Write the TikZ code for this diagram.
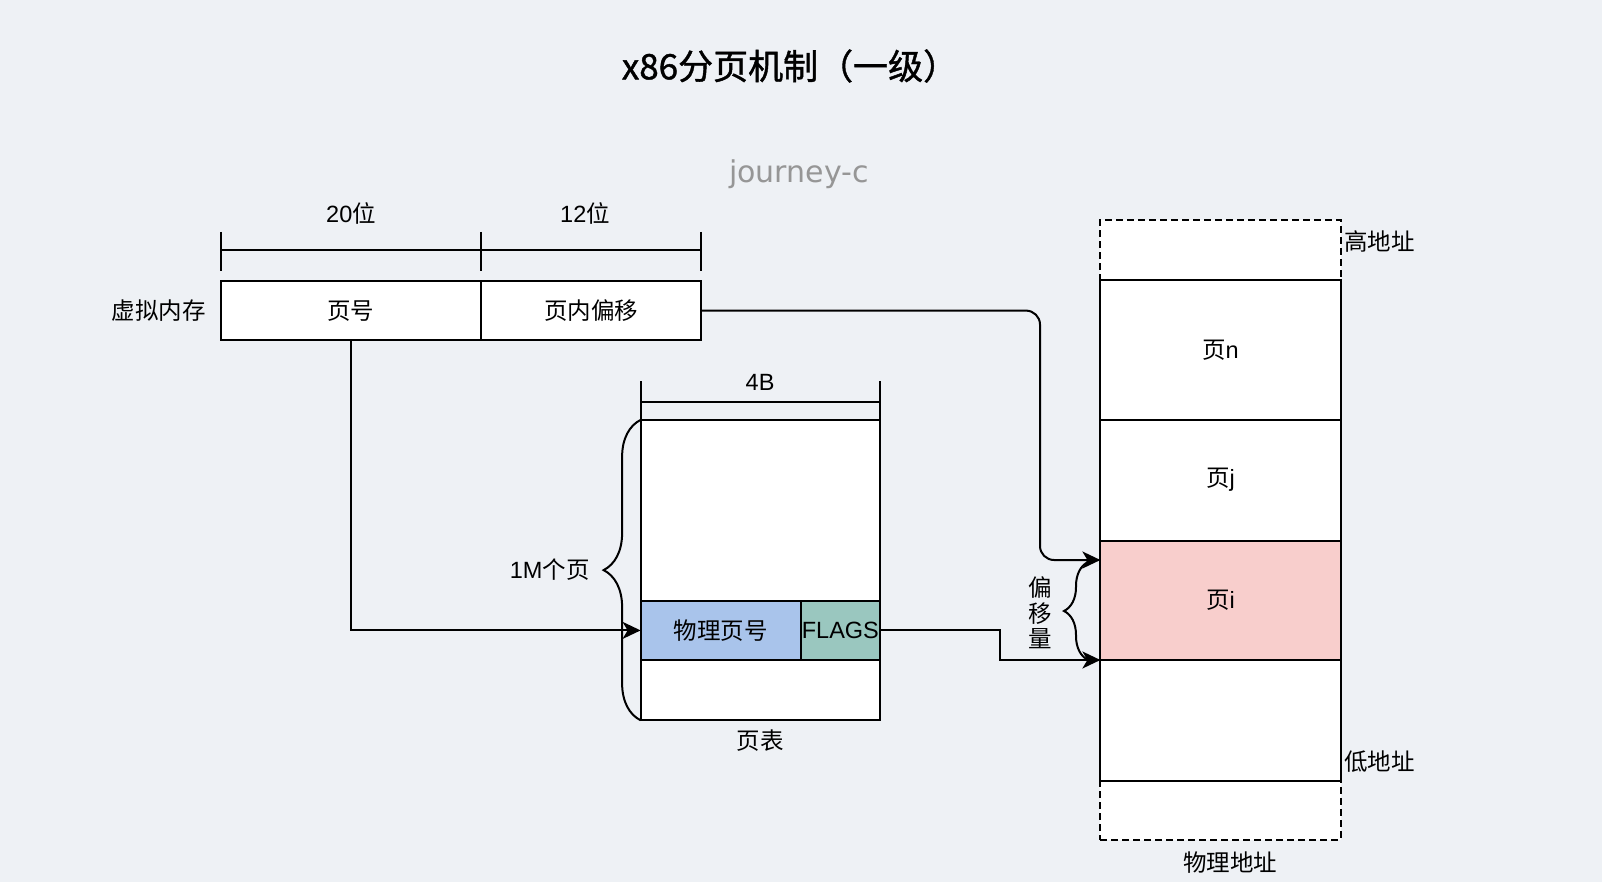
\documentclass[tikz,border=0pt]{standalone}
\usepackage{fontspec}
\setmainfont{Liberation Sans}
\newfontfamily\cjk{Noto Sans CJK SC}
\newfontfamily\cjkhead[FakeBold=1.2]{Noto Sans CJK SC}
\newfontfamily\handfont{DejaVu Sans}
\usetikzlibrary{arrows.meta,positioning,decorations.pathreplacing}
\definecolor{bgpaper}{RGB}{238,241,245}
\definecolor{ppnblue}{HTML}{A9C4EB}
\definecolor{flaggreen}{HTML}{9AC7BF}
\definecolor{pagepink}{HTML}{F8CECC}
\definecolor{markgray}{RGB}{150,150,150}
\newcommand{\zh}[1]{{\cjk #1}}

\begin{document}
\begin{tikzpicture}[x=1pt,y=-1pt,line width=2pt,
    lbl/.style={font=\fontsize{23.5}{28}\selectfont,inner sep=0pt},
    cell/.style={draw,fill=white,lbl,outer sep=0pt,anchor=north west,minimum width=#1},
    arr/.style={-{Stealth[length=18pt,width=17pt,inset=5pt]}},
    curly/.style={decorate,decoration={brace,amplitude=#1}}]
  \fill[bgpaper] (0,0) rectangle (1602,882);
  \useasboundingbox (0,0) rectangle (1602,882);

  \node[font=\cjkhead\fontsize{35}{40}\selectfont] (title) at (790,66) {x86分页机制（一级）};
  \node[font=\handfont\fontsize{30}{34}\selectfont,text=markgray] (mark) at (799,174) {journey-c};

  % virtual address
  \node[cell=260.5pt,minimum height=59.2pt] (pn) at (220.7,281) {\zh{页号}};
  \node[cell=219.7pt,minimum height=59.2pt,right=0pt of pn] (off) {\zh{页内偏移}};
  \node[lbl,left=14pt of pn] (vm) {\zh{虚拟内存}};
  \foreach \tx in {220.7,481.2,700.9}
    \draw (\tx,231.9) -- (\tx,270.8);
  \draw (220.7,250.3) -- (700.9,250.3);
  \node[lbl] (w20) at (351,213) {20\zh{位}};
  \node[lbl] (w12) at (585,213) {12\zh{位}};

  % page table
  \node[cell=239.1pt,minimum height=180.9pt] (ptop) at (640.6,419.9) {};
  \node[cell=160.4pt,minimum height=59.2pt,fill=ppnblue] (ppn) at (ptop.south west) {\zh{物理页号}};
  \node[cell=78.7pt,minimum height=59.2pt,fill=flaggreen] (flags) at (ppn.north east) {FLAGS};
  \node[cell=239.1pt,minimum height=60.3pt] (pbot) at (ppn.south west) {};
  \node[lbl,below=8pt of pbot] (pt) {\zh{页表}};
  \foreach \tx in {640.6,879.7}
    \draw (\tx,381.1) -- (\tx,419.9);
  \draw (640.6,401.5) -- (879.7,401.5);
  \node[lbl] (w4) at (760.1,382) {4B};
  \draw[curly=37pt] (640.6,720.3) -- (640.6,419.9);
  \node[lbl] (cnt) at (549.7,570) {1M\zh{个页}};

  % physical memory
  \node[draw,dash pattern=on 7pt off 4pt,fill=white,minimum width=240.1pt,minimum height=620.1pt,
    outer sep=0pt,anchor=north west] (phys) at (1100.4,219.7) {};
  \node[cell=240.1pt,minimum height=140pt] (pgn) at (1100.4,279.9) {\zh{页}n};
  \node[cell=240.1pt,minimum height=120.6pt] (pgj) at (pgn.south west) {\zh{页}j};
  \node[cell=240.1pt,minimum height=119.5pt,fill=pagepink] (pgi) at (pgj.south west) {\zh{页}i};
  \node[cell=240.1pt,minimum height=120.6pt] (pgb) at (pgi.south west) {};
  \node[lbl,anchor=west] (hi) at (1343,242) {\zh{高地址}};
  \node[lbl,anchor=west] (lo) at (1343,762) {\zh{低地址}};
  \node[lbl] (pa) at (1230,863) {\zh{物理地址}};

  % connectors
  \coordinate (offin) at (1100.4,560);
  \draw[arr] (pn.south) |- (ppn.west);
  \draw[arr,rounded corners=14pt] (off.east) -| (1040,560) -- (offin);
  \draw[arr] (flags.east) -- ++(120.5,0) |- (pgi.south west);
  \draw[curly=24pt] (1088,660) -- (1088,562);
  \node[lbl,align=center,font=\cjk\fontsize{23.5}{25.5}\selectfont] (offl) at (1040,613) {偏\\移\\量};
\end{tikzpicture}
\end{document}
